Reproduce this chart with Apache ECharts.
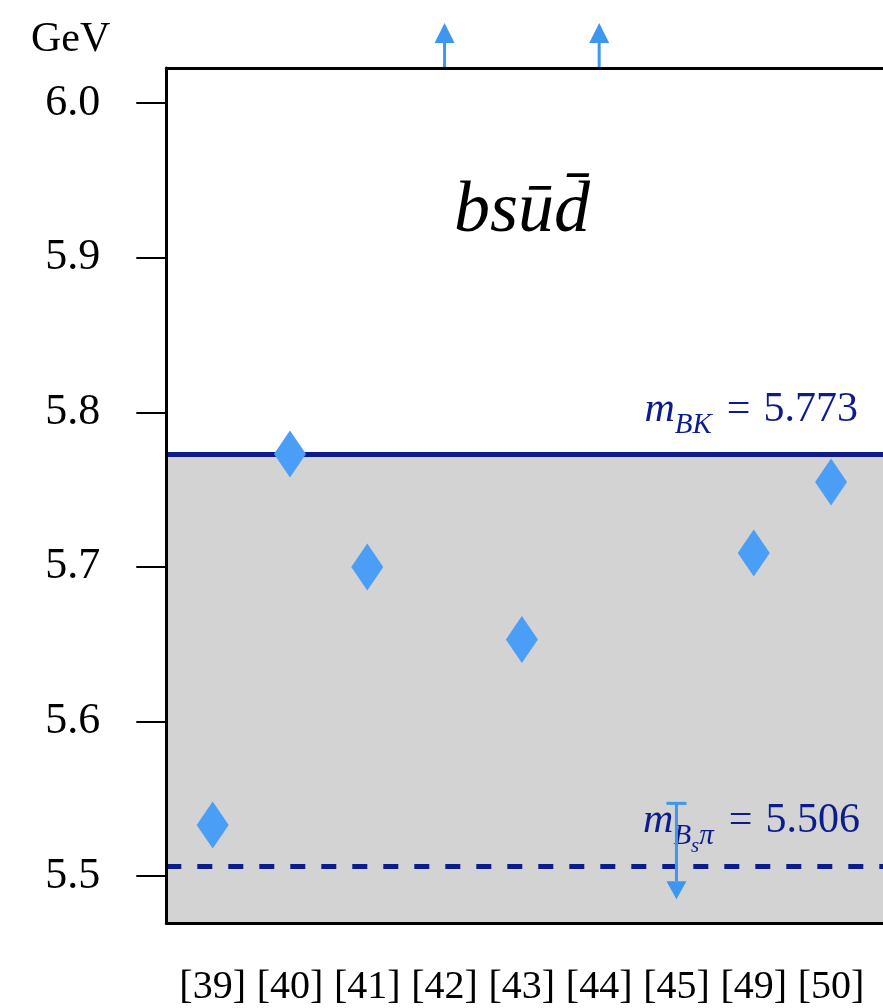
<!DOCTYPE html>
<html>
<head>
<meta charset="utf-8">
<script src="https://cdn.jsdelivr.net/npm/echarts@6/dist/echarts.min.js"></script>
<style>
  html, body { margin: 0; padding: 0; background: #ffffff; }
  #chart { width: 883px; height: 1008px; }
</style>
</head>
<body>
<div id="chart"></div>
<script>
// References along the horizontal axis
const refs = ['[39]', '[40]', '[41]', '[42]', '[43]', '[44]', '[45]', '[49]', '[50]'];
// Predicted bsūd̄ tetraquark masses (GeV); null where no point is plotted
const masses = [5.533, 5.773, 5.700, null, 5.653, null, null, 5.709, 5.755];
// Predictions lying above the plotted range
const aboveRange = ['[42]', '[44]'];
// Upper limit: [limit, arrow tail]
const limitRef = '[45]';
const limitRange = [5.547, 5.485];
// Thresholds
const mBK = 5.773;
const mBsPi = 5.506;
// Vertical axis
const yTicks = [5.5, 5.6, 5.7, 5.8, 5.9, 6.0];
const yMin = 5.4696;
const yMax = 6.0228;

const NAVY = '#0c1c8c';
const DIAMOND = '#4a9ef6';
const ARROW = '#3d96f0';
const SERIF = '"Liberation Serif", "DejaVu Serif", serif';

const chart = echarts.init(document.getElementById('chart'), null, { renderer: 'canvas' });

const points = [];
masses.forEach((v, i) => { if (v !== null) points.push([i, v]); });

const upArrows = aboveRange.map(r => [refs.indexOf(r), yMax]);
const limitData = [[refs.indexOf(limitRef), limitRange[0], limitRange[1]]];

function upArrow(params, api) {
  const p = api.coord([api.value(0), api.value(1)]);
  const len = 45, head = 20, hw = 10;
  return {
    type: 'group',
    children: [
      { type: 'line', shape: { x1: p[0], y1: p[1], x2: p[0], y2: p[1] - len + head },
        style: { stroke: ARROW, lineWidth: 3 } },
      { type: 'polygon', shape: { points: [[p[0], p[1] - len], [p[0] - hw, p[1] - len + head], [p[0] + hw, p[1] - len + head]] },
        style: { fill: ARROW } }
    ]
  };
}

function limitArrow(params, api) {
  const top = api.coord([api.value(0), api.value(1)]);
  const tip = api.coord([api.value(0), api.value(2)]);
  const head = 18, hw = 10, cap = 10;
  return {
    type: 'group',
    children: [
      { type: 'line', shape: { x1: top[0] - cap, y1: top[1], x2: top[0] + cap, y2: top[1] },
        style: { stroke: ARROW, lineWidth: 3 } },
      { type: 'line', shape: { x1: top[0], y1: top[1], x2: tip[0], y2: tip[1] - head },
        style: { stroke: ARROW, lineWidth: 3 } },
      { type: 'polygon', shape: { points: [[tip[0], tip[1]], [tip[0] - hw, tip[1] - head], [tip[0] + hw, tip[1] - head]] },
        style: { fill: ARROW } }
    ]
  };
}

const labelRich = {
  m: { fontFamily: SERIF, fontStyle: 'italic', fontSize: 42, color: NAVY, lineHeight: 46, verticalAlign: 'top' },
  sub: { fontFamily: SERIF, fontStyle: 'italic', fontSize: 29, color: NAVY, lineHeight: 32, verticalAlign: 'top', padding: [22, 0, 0, 0] },
  subsub: { fontFamily: SERIF, fontStyle: 'italic', fontSize: 21, color: NAVY, lineHeight: 23, verticalAlign: 'top', padding: [36, 0, 0, 0] },
  eq: { fontFamily: SERIF, fontSize: 42, color: NAVY, lineHeight: 46, verticalAlign: 'top', padding: [0, 13, 0, 15] },
  t: { fontFamily: SERIF, fontSize: 42, color: NAVY, lineHeight: 46, verticalAlign: 'top' }
};

const axisBlack = { color: '#000', width: 3 };

const option = {
  backgroundColor: '#ffffff',
  animation: false,
  title: [
    { text: 'GeV', left: 26, top: 14,
      textStyle: { fontFamily: SERIF, fontWeight: 'normal', fontSize: 42, color: '#000' } },
    { text: 'bsūd̄', left: 449, top: 171,
      textStyle: { fontFamily: SERIF, fontStyle: 'italic', fontWeight: 'normal', fontSize: 72, color: '#000' } }
  ],
  grid: {
    left: 166.3, top: 68, right: 0, bottom: 85,
    show: true, backgroundColor: '#ffffff', borderWidth: 0
  },
  xAxis: [
    {
      type: 'value', min: -0.6, max: 8.672, z: 10, position: 'bottom',
      axisLine: { show: true, onZero: false, lineStyle: axisBlack },
      axisTick: { show: false },
      splitLine: { show: false },
      axisLabel: {
        customValues: refs.map((r, i) => i),
        formatter: v => refs[Math.round(v)],
        margin: 44, fontFamily: SERIF, fontSize: 40, color: '#000'
      }
    },
    {
      // frame line along the top of the plot
      type: 'value', min: -0.6, max: 8.672, z: 10, position: 'top',
      axisLine: { show: true, onZero: false, lineStyle: axisBlack },
      axisTick: { show: false },
      splitLine: { show: false },
      axisLabel: { show: false }
    }
  ],
  yAxis: {
    type: 'value', min: yMin, max: yMax, z: 10,
    axisLine: { show: true, onZero: false, lineStyle: axisBlack },
    axisTick: { show: true, customValues: yTicks, length: 30, lineStyle: { color: '#000', width: 2 } },
    splitLine: { show: false },
    axisLabel: {
      customValues: yTicks,
      formatter: v => v.toFixed(1),
      margin: 66, fontFamily: SERIF, fontSize: 44, color: '#000'
    }
  },
  series: [
    {
      type: 'scatter',
      data: points,
      symbol: 'diamond',
      symbolSize: [32, 47],
      itemStyle: { color: DIAMOND, opacity: 1 },
      z: 5,
      markArea: {
        silent: true,
        itemStyle: { color: '#d3d3d3' },
        data: [[{ yAxis: yMin }, { yAxis: mBK }]]
      },
      markLine: {
        silent: true,
        symbol: ['none', 'none'],
        precision: 3,
        data: [
          {
            yAxis: mBK,
            lineStyle: { color: NAVY, width: 5, type: 'solid' },
            label: {
              show: true, position: 'insideEndTop', padding: [0, 20, 14, 0],
              formatter: () => '{m|m}{sub|BK}{eq|=}{t|' + mBK.toFixed(3) + '}',
              rich: labelRich
            }
          },
          {
            yAxis: mBsPi,
            lineStyle: { color: NAVY, width: 5, type: [15, 16] },
            label: {
              show: true, position: 'insideEndTop', padding: [0, 18, 16, 0],
              formatter: () => '{m|m}{sub|B}{subsub|s}{sub|π}{eq|=}{t|' + mBsPi.toFixed(3) + '}',
              rich: labelRich
            }
          }
        ]
      }
    },
    {
      type: 'custom',
      clip: false,
      z: 6,
      silent: true,
      data: upArrows,
      renderItem: upArrow
    },
    {
      type: 'custom',
      clip: false,
      z: 6,
      silent: true,
      data: limitData,
      encode: { x: 0, y: [1, 2] },
      renderItem: limitArrow
    }
  ]
};

chart.setOption(option);
</script>
</body>
</html>
